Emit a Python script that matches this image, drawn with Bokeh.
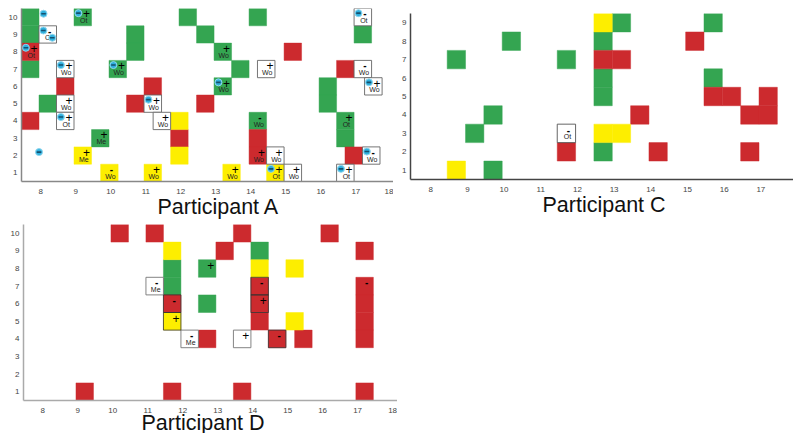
from bokeh.plotting import figure
from bokeh.layouts import row, column
from bokeh.models import Range1d, FixedTicker, Title, ColumnDataSource
from bokeh.core.properties import value
from bokeh.embed import file_html
from bokeh.resources import INLINE

GREEN, RED, YELLOW = "#34a551", "#cc2a2e", "#fdee00"
X_TICKS = [8, 9, 10, 11, 12, 13, 14, 15, 16, 17, 18]
Y_TICKS_10 = [1, 2, 3, 4, 5, 6, 7, 8, 9, 10]
Y_TICKS_9 = [1, 2, 3, 4, 5, 6, 7, 8, 9]
LABEL_NUDGE = 0.05

# Cells: (start hour, row)
A_green = [(7.5,10),(7.5,9),(7.5,7),(9,10),(12,10),(14,10),(10.5,9),(10.5,8),(12.5,9),(17,9),
           (13,8),(10,7),(13.5,7),(13,6),(16,6),(8,5),(16,5),(14,4),(16.5,4),(9.5,3),(16.5,3)]
A_red = [(7.5,8),(15,8),(16.5,7),(8.5,6),(11,6),(10.5,5),(12.5,5),(7.5,4),(11.76,3),(14,3),(14,2),(16.74,2)]
A_yellow = [(11.76,4),(9,2),(11.76,2),(9.76,1),(11,1),(13.25,1),(14.5,1)]
A_white = [(8,9),(17,10),(8.5,7),(14.24,7),(17,7),(17.3,6),(8.5,5),(11,5),(8.5,4),(11.26,4),
           (14.5,2),(17.24,2),(15,1),(16.5,1)]
# Notes: (start hour, row, code, sign, has bubble)
A_notes = [(9,10,"Ot","+",1),(17,10,"Ot","-",1),(8,9,"Ot","-",1),(7.5,8,"Ot","+",1),(13,8,"Wo","+",0),
           (8.5,7,"Wo","+",1),(10,7,"Wo","+",1),(14.24,7,"Wo","+",0),(17,7,"Wo","-",0),(13,6,"Wo","+",1),
           (17.3,6,"Wo","+",1),(8.5,5,"Wo","+",0),(11,5,"Wo","+",1),(8.5,4,"Ot","+",1),(11.26,4,"Wo","+",0),
           (14,4,"Wo","-",0),(16.5,4,"Ot","+",0),(9.5,3,"Me","+",0),(9,2,"Me","+",0),(14,2,"Wo","+",0),
           (14.5,2,"Wo","+",0),(17.24,2,"Wo","-",1),(9.76,1,"Wo","-",0),(11,1,"Wo","+",0),(13.25,1,"Wo","+",0),
           (14.5,1,"Ot","+",1),(15,1,"Wo","+",0),(16.5,1,"Ot","+",1)]
A_extra_bubble_x = [8.13, 8.0, 8.38]
A_extra_bubble_y = [10.2, 2.2, 8.81]

C_green = [(13,9),(15.5,9),(10,8),(12.5,8),(8.5,7),(11.5,7),(12.5,6),(15.5,6),(12.5,5),(9.5,4),(9,3),(12.5,2),(9.5,1)]
C_red = [(15,8),(12.5,7),(13,7),(15.5,5),(16,5),(17,5),(13.5,4),(16.5,4),(17,4),(11.5,2),(14,2),(16.5,2)]
C_yellow = [(12.5,9),(12.5,3),(13,3),(8.5,1)]
C_white = [(11.5,3)]
C_notes = [(11.5,3,"Ot","-",0)]

D_green = [(14,9),(11.5,8),(12.5,8),(11.5,7),(12.5,6)]
D_red = [(10,10),(11,10),(13.5,10),(16,10),(13,9),(17,9),(14,7),(17,7),(11.5,6),(14,6),(17,6),(14,5),(17,5),
         (12.5,4),(14.5,4),(15.25,4),(17,4),(9,1),(11.5,1),(13.5,1),(17,1)]
D_yellow = [(11.5,9),(14,8),(15,8),(11.5,5),(15,5)]
D_white = [(11,7),(12,4),(13.5,4)]
D_dark_outline = [(14,7),(11.5,6),(14,6),(11.5,5),(14.5,4)]
D_notes = [(12.5,8,"","+",0),(11,7,"Me","-",0),(14,7,"","-",0),(17,7,"","-",0),(11.5,6,"","-",0),(14,6,"","+",0),
           (11.5,5,"","+",0),(12,4,"Me","-",0),(13.5,4,"","+",0),(14.5,4,"","-",0)]


def cells(p, pts, fill, line, line_alpha=0.45):
    if not pts:
        return
    src = ColumnDataSource(dict(
        left=[a for a, _ in pts], right=[a + 0.5 for a, _ in pts],
        bottom=[b - 0.5 for _, b in pts], top=[b + 0.5 for _, b in pts]))
    p.quad(left="left", right="right", bottom="bottom", top="top", source=src,
           fill_color=fill, line_color=line, line_alpha=line_alpha, line_width=1)


def notes(p, items):
    labelled = [n for n in items if n[2]]
    p.text([n[0] + 0.25 for n in labelled], [n[1] for n in labelled], text=[n[2] for n in labelled],
           x_offset=1, y_offset=3.5, text_font=value("Liberation Sans"), text_font_size="7px",
           text_color="#222222", text_align="center", text_baseline="middle")
    plus = [n for n in items if n[3] == "+"]
    p.text([n[0] + 0.25 for n in plus], [n[1] for n in plus], text=["+"] * len(plus),
           x_offset=3.7, y_offset=-3.3, text_font=value("Liberation Sans"), text_font_size="12px",
           text_color="#000000", text_align="center", text_baseline="middle")
    minus = [n for n in items if n[3] == "-"]
    p.text([n[0] + 0.25 for n in minus], [n[1] for n in minus], text=["-"] * len(minus),
           x_offset=2, y_offset=-3.7, text_font=value("Liberation Sans"), text_font_size="10px",
           text_font_style="bold", text_color="#000000", text_align="center", text_baseline="middle")


def bubbles(p, xs, ys):
    p.scatter(xs, ys, marker="circle", size=7, fill_color="#2fb0de", line_color="#8fd6ee", line_width=1)
    p.scatter(xs, ys, marker="dash", size=4.5, line_color="#15506e", line_width=1.6)


def panel(frame_w, frame_h, left, top, bottom, xmax, rows, yticks, axis_color, title, title_off, title_standoff):
    p = figure(frame_width=frame_w, frame_height=frame_h, output_backend="svg", toolbar_location=None,
               x_range=Range1d(7.5, xmax), y_range=Range1d(0.5, rows + 0.5),
               min_border_left=left, min_border_top=top, min_border_bottom=bottom, min_border_right=0)
    p.outline_line_color = None
    p.grid.visible = False
    nudged = [t + LABEL_NUDGE for t in X_TICKS]
    p.xaxis.ticker = FixedTicker(ticks=nudged)
    p.xaxis.major_label_overrides = {n: str(t) for n, t in zip(nudged, X_TICKS)}
    p.yaxis.ticker = FixedTicker(ticks=yticks)
    for ax in (p.xaxis[0], p.yaxis[0]):
        ax.major_tick_line_color = None
        ax.minor_tick_line_color = None
        ax.major_tick_in = 0
        ax.major_tick_out = 0
        ax.minor_tick_in = 0
        ax.minor_tick_out = 0
        ax.axis_line_color = axis_color
        ax.axis_line_width = 1.5
        ax.major_label_text_font = "Liberation Sans"
        ax.major_label_text_font_size = "8px"
        ax.major_label_text_color = "#444444"
    p.xaxis[0].major_label_standoff = 7
    p.yaxis[0].major_label_standoff = 4
    p.add_layout(Title(text=title, align="left", offset=title_off, standoff=title_standoff,
                       text_font="Liberation Sans", text_font_size="21.5px", text_font_style="normal",
                       text_color="#111111"), "below")
    return p


pA = panel(376, 173, 19, 8, 40, 18.24, 10, Y_TICKS_10, "#888888", "Participant A", 136, -7)
pA.margin = (0, 0, 0, -2)
cells(pA, A_green, GREEN, GREEN); cells(pA, A_red, RED, RED); cells(pA, A_yellow, YELLOW, YELLOW)
cells(pA, A_white, "#ffffff", "#666666", 0.9)
notes(pA, A_notes)
bubbles(pA, [n[0] + 0.125 for n in A_notes if n[4]] + A_extra_bubble_x,
        [n[1] + 0.23 for n in A_notes if n[4]] + A_extra_bubble_y)

pC = panel(383, 166, 13, 13, 40, 17.94, 9, Y_TICKS_9, "#444444", "Participant C", 132, -8)
cells(pC, C_green, GREEN, GREEN); cells(pC, C_red, RED, RED); cells(pC, C_yellow, YELLOW, YELLOW)
cells(pC, C_white, "#ffffff", "#555555", 0.9)
notes(pC, C_notes)

pD = panel(374, 176, 23, 3, 33, 18.19, 10, Y_TICKS_10, "#aaaaaa", "Participant D", 118, -13)
cells(pD, D_green, GREEN, GREEN); cells(pD, D_red, RED, RED); cells(pD, D_yellow, YELLOW, YELLOW)
cells(pD, D_white, "#ffffff", "#777777", 0.9)
cells(pD, D_dark_outline, None, "#333333", 0.8)
notes(pD, D_notes)

layout = row(column(pA, pD, spacing=0), pC, spacing=0)
open("out.html", "w").write(file_html(layout, INLINE))
